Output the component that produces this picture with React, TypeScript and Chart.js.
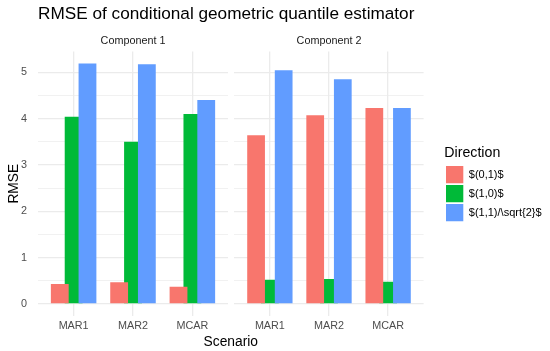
import React, { useEffect, useRef } from 'react';
import { Chart, registerables } from 'chart.js';

Chart.register(...registerables);
Chart.defaults.font.family = "'Liberation Sans', Arial, sans-serif";

const chartTitle = 'RMSE of conditional geometric quantile estimator';
const xAxisTitle = 'Scenario';
const yAxisTitle = 'RMSE';
const legendTitle = 'Direction';
const panels = ['Component 1', 'Component 2'];
const scenarios = ['MAR1', 'MAR2', 'MCAR'];
const directions = ['$(0,1)$', '$(1,0)$', '$(1,1)/\\sqrt{2}$'];
const colors = ['#F8766D', '#00BA38', '#619CFF'];

const comp1Dir01 = [0.43, 0.47, 0.37];
const comp1Dir10 = [4.04, 3.5, 4.1];
const comp1Dir11 = [5.19, 5.17, 4.4];

const comp2Dir01 = [3.64, 4.07, 4.23];
const comp2Dir10 = [0.52, 0.54, 0.48];
const comp2Dir11 = [5.04, 4.85, 4.23];

const yTicks = [0, 1, 2, 3, 4, 5];

const panelSeries = [
  [comp1Dir01, comp1Dir10, comp1Dir11],
  [comp2Dir01, comp2Dir10, comp2Dir11],
];

const allValues = [...comp1Dir01, ...comp1Dir10, ...comp1Dir11, ...comp2Dir01, ...comp2Dir10, ...comp2Dir11];
const dataMax = Math.max(...allValues);
const yLo = -0.05 * dataMax;
const yHi = dataMax * 1.05;

const yGrid: number[] = [];
yTicks.forEach((t, i) => {
  yGrid.push(t);
  if (i < yTicks.length - 1) yGrid.push((t + yTicks[i + 1]) / 2);
});

const dodgeStep = 0.7 / 3;
const barWidth = 0.9 / 3;
const FONT = "'Liberation Sans', Arial, sans-serif";

// panel geometry (pixels)
const P1_LEFT = 38;
const P1_RIGHT = 228;
const P2_LEFT = 234.4;
const P2_RIGHT = 423.6;

const outerTextPlugin = {
  id: 'outerText',
  afterDraw(chart: any) {
    const ctx = chart.ctx;
    ctx.save();
    ctx.fillStyle = '#000';
    ctx.textBaseline = 'alphabetic';
    ctx.font = `17.2px ${FONT}`;
    ctx.textAlign = 'left';
    ctx.fillText(chartTitle, P1_LEFT, 18.5);
    ctx.font = `13.8px ${FONT}`;
    ctx.textAlign = 'center';
    ctx.fillText(xAxisTitle, (P1_LEFT + P2_RIGHT) / 2, 346.3);
    ctx.restore();
  },
};

function buildConfig(panel: number): any {
  const isLeft = panel === 0;
  const series = panelSeries[panel];
  const datasets = directions.map((label, d) => ({
    label,
    data: series[d].map((v, i) => ({ x: i + (d - 1) * dodgeStep, y: v })),
    backgroundColor: colors[d],
    borderWidth: 0,
    grouped: false,
    order: d === 1 ? 1 : 0,
    categoryPercentage: barWidth / dodgeStep,
    barPercentage: 1,
  }));

  const scales: any = {
    x: {
      type: 'linear',
      min: -0.6,
      max: scenarios.length - 1 + 0.6,
      offset: false,
      afterBuildTicks: (s: any) => {
        s.ticks = scenarios.map((_, i) => ({ value: i }));
      },
      ticks: {
        callback: (v: any) => scenarios[v] ?? '',
        color: '#4D4D4D',
        font: { size: 10.8 },
        padding: 3.5,
        autoSkip: false,
        maxRotation: 0,
      },
      grid: { color: '#EBEBEB', lineWidth: 1.3, drawTicks: false, offset: false },
      border: { display: false },
      afterFit: (s: any) => {
        s.height = 35;
      },
    },
    y: {
      type: 'linear',
      min: yLo,
      max: yHi,
      afterBuildTicks: (s: any) => {
        s.ticks = yGrid.map((v) => ({ value: v }));
      },
      ticks: {
        display: isLeft,
        callback: (v: any) => (yTicks.includes(v) ? String(v) : ''),
        color: '#4D4D4D',
        font: { size: 10.8 },
        padding: 11,
        autoSkip: false,
      },
      grid: {
        color: '#EBEBEB',
        lineWidth: (c: any) => (c.tick && yTicks.includes(c.tick.value) ? 1.3 : 0.7),
        drawTicks: false,
      },
      border: { display: false },
      title: isLeft
        ? { display: true, text: yAxisTitle, font: { size: 13.8 }, color: '#000', padding: { top: 6, bottom: 0 } }
        : { display: false },
      afterFit: (s: any) => {
        s.width = isLeft ? P1_LEFT : 0;
      },
    },
  };

  if (!isLeft) {
    scales.spacer = {
      type: 'linear',
      position: 'right',
      display: true,
      grid: { display: false, drawTicks: false },
      ticks: { display: false },
      border: { display: false },
      afterFit: (s: any) => {
        s.width = 20.7;
      },
    };
  }

  return {
    type: 'bar',
    data: { datasets },
    plugins: isLeft ? [outerTextPlugin] : [],
    options: {
      responsive: false,
      animation: false,
      devicePixelRatio: 1,
      layout: {
        padding: isLeft
          ? { left: 0, right: 550 - P1_RIGHT, top: 0, bottom: 0 }
          : { left: P2_LEFT, right: 0, top: 0, bottom: 0 },
      },
      scales,
      plugins: {
        legend: isLeft
          ? { display: false }
          : {
              display: true,
              position: 'right',
              align: 'center',
              maxWidth: 550 - P2_RIGHT - 20.7,
              title: {
                display: true,
                text: legendTitle,
                position: 'start',
                font: { size: 14.2 },
                color: '#000',
                padding: { top: 17.6, bottom: 1.66 },
              },
              labels: {
                boxWidth: 17.3,
                boxHeight: 17.3,
                padding: 1.7,
                font: { size: 11 },
                color: '#000',
                sort: (a: any, b: any) => a.datasetIndex - b.datasetIndex,
              },
            },
        title: {
          display: true,
          text: panels[panel],
          fullSize: false,
          position: 'top',
          font: { size: 10.8, weight: 'normal' },
          color: '#1A1A1A',
          padding: { top: 34.2, bottom: 4.22 },
        },
        tooltip: { enabled: false },
      },
    },
  };
}

export default function App() {
  const leftRef = useRef<HTMLCanvasElement>(null);
  const rightRef = useRef<HTMLCanvasElement>(null);

  useEffect(() => {
    const charts: Chart[] = [];
    if (leftRef.current) charts.push(new Chart(leftRef.current, buildConfig(0)));
    if (rightRef.current) charts.push(new Chart(rightRef.current, buildConfig(1)));
    return () => charts.forEach((c) => c.destroy());
  }, []);

  const canvasStyle: React.CSSProperties = { position: 'absolute', left: 0, top: 0, width: 550, height: 351 };

  return (
    <div style={{ position: 'fixed', left: 0, top: 0, width: 550, height: 351, background: '#fff' }}>
      <canvas ref={leftRef} width={550} height={351} style={canvasStyle} />
      <canvas ref={rightRef} width={550} height={351} style={canvasStyle} />
    </div>
  );
}
